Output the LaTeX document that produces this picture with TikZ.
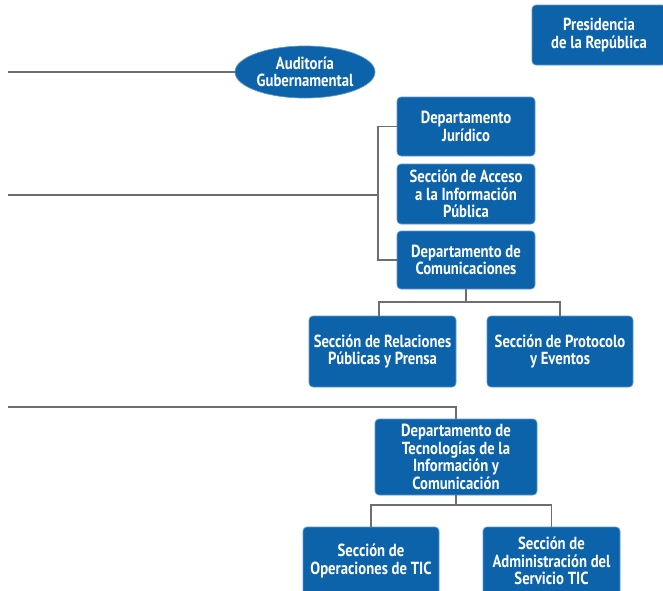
\documentclass[tikz,border=0pt]{standalone}
\usepackage{fontspec}
\setmainfont{PT Sans}[FakeStretch=0.84]
\usetikzlibrary{shapes.geometric}
\definecolor{boxblue}{RGB}{12,99,170}
\definecolor{edgeblue}{RGB}{95,150,205}
\definecolor{linegray}{RGB}{110,110,110}
\tikzset{
  orgbox/.style={rectangle, rounded corners=4pt, fill=boxblue, draw=edgeblue, line width=0.7pt,
    text=white, align=center, inner sep=0pt, font=\bfseries\fontsize{17.5}{17.5}\selectfont},
  orgellipse/.style={ellipse, fill=boxblue, draw=edgeblue, line width=0.7pt,
    text=white, align=center, inner sep=0pt, font=\bfseries\fontsize{17.5}{17.5}\selectfont},
  conn/.style={draw=linegray, line width=1.8pt}
}
\begin{document}
\begin{tikzpicture}[x=1pt,y=-1pt]
\useasboundingbox (0,0) rectangle (663,590);
\begin{scope}
\clip (0,0) rectangle (663,590);
% nodes
\node[orgbox, minimum width=134pt, minimum height=60pt] (pres) at (599,35) {Presidencia\\de la República};
\node[orgellipse, minimum width=140pt, minimum height=52pt] (aud) at (305,72) {Auditoría\\Gubernamental};
\node[orgbox, minimum width=138pt, minimum height=59pt] (jur) at (466,126.5) {Departamento\\Jurídico};
\node[orgbox, minimum width=138pt, minimum height=60pt] (acc) at (466,194) {Sección de Acceso\\a la Información\\Pública};
\node[orgbox, minimum width=138pt, minimum height=58pt] (com) at (466,260) {Departamento de\\Comunicaciones};
\node[orgbox, minimum width=147pt, minimum height=71pt] (rel) at (382.5,351.5) {Sección de Relaciones\\Públicas y Prensa};
\node[orgbox, minimum width=146pt, minimum height=71pt] (pro) at (560,351.5) {Sección de Protocolo\\y Eventos};
\node[orgbox, minimum width=162pt, minimum height=76pt] (tic) at (456,457) {Departamento de\\Tecnologías de la\\Información y\\Comunicación};
\node[orgbox, minimum width=136pt, minimum height=68pt] (op) at (371,561) {Sección de\\Operaciones de TIC};
\node[orgbox, minimum width=137pt, minimum height=68pt] (ad) at (551.5,561) {Sección de\\Administración del\\Servicio TIC};
\end{scope}
% free ends
\coordinate (lA) at (8,72);
\coordinate (lB) at (8,195);
\coordinate (lC) at (8,407);
\coordinate (bx) at (378,195);
% connectors
\draw[conn] (lA) -- (aud.west);
\draw[conn] (lB) -- (bx);
\draw[conn] (jur.west) -- ++(-19,0) |- (com.west);
\draw[conn] (com.south) -- ++(0,13) -| ([xshift=-3.5pt]rel.north);
\draw[conn] (com.south) ++(0,13) -| (pro.north);
\draw[conn] (lC) -| (tic.north);
\draw[conn] (tic.south) -- ++(0,10) -| (op.north);
\draw[conn] (tic.south) ++(0,10) -| (ad.north);
\end{tikzpicture}
\end{document}
